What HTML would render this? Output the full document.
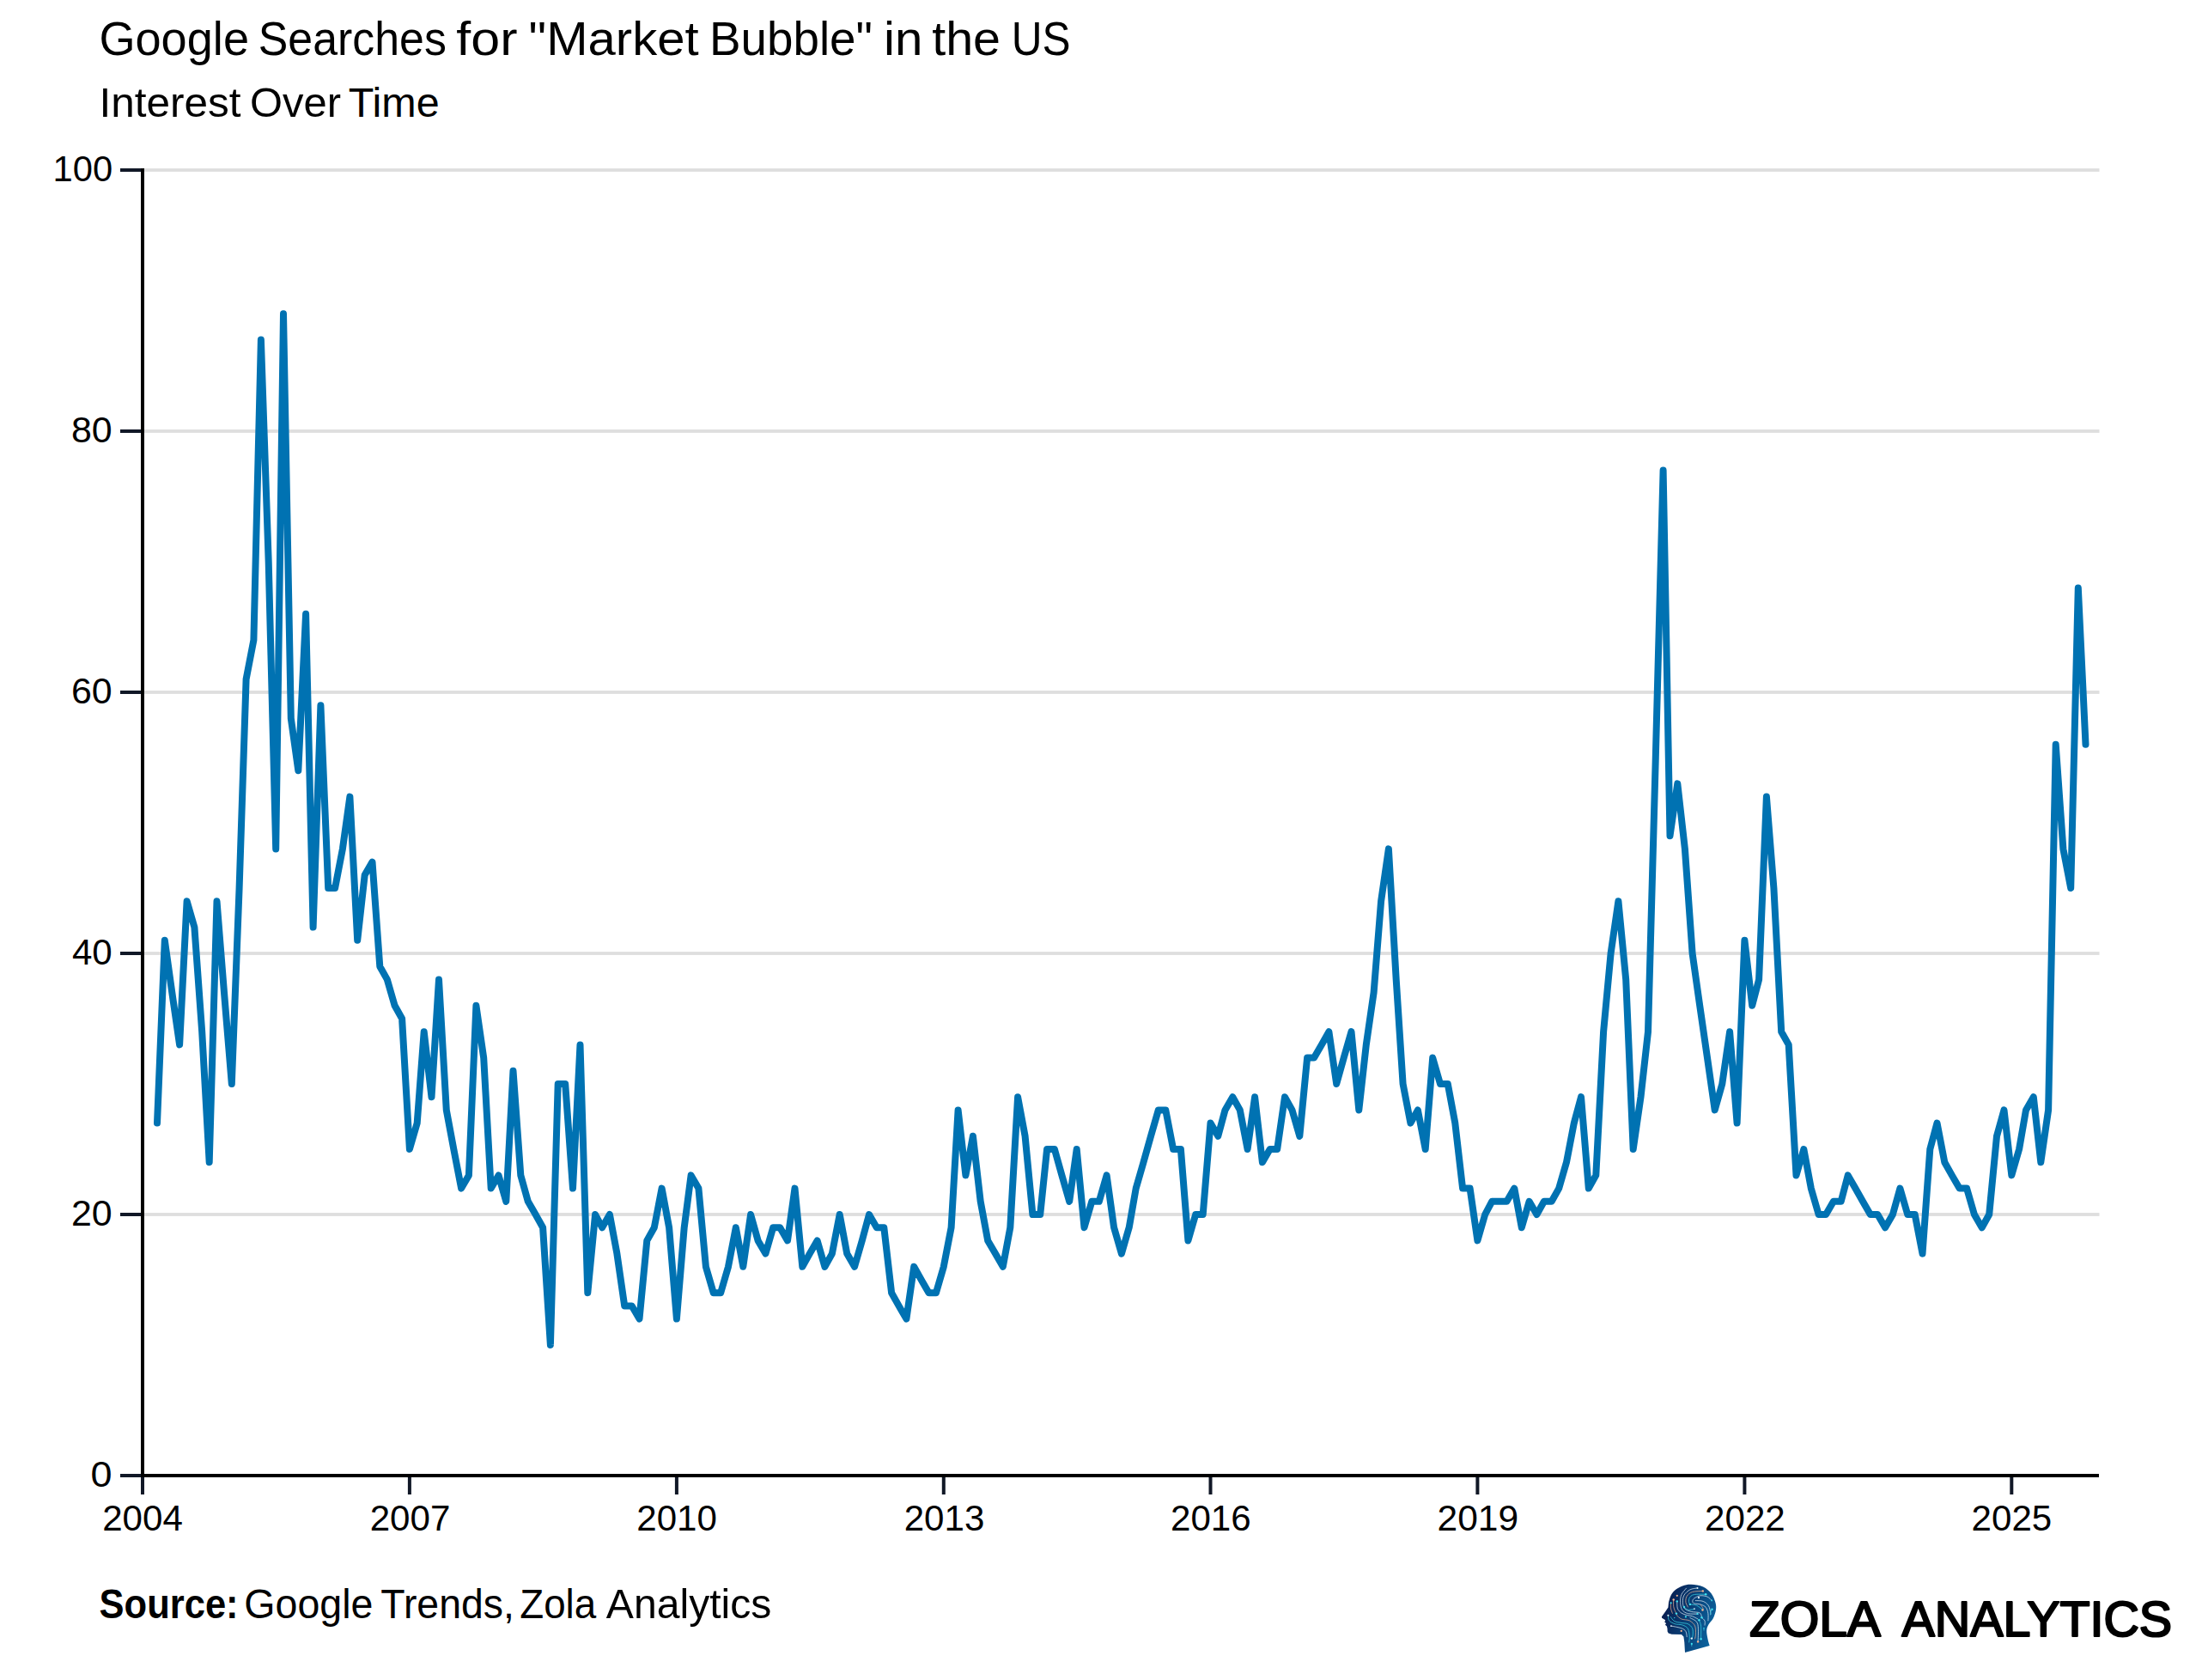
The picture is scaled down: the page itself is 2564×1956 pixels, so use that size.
<!DOCTYPE html>
<html lang="en"><head><meta charset="utf-8"><title>Google Searches for "Market Bubble" in the US</title>
<style>
html,body{margin:0;padding:0;background:#fff;}
body{width:2564px;height:1956px;overflow:hidden;}
svg{display:block;font-family:"Liberation Sans", Arial, sans-serif;}
text{fill:#000;white-space:pre;}
</style></head><body>
<svg width="2564" height="1956" viewBox="0 0 2564 1956">
<defs>
<linearGradient id="hg" gradientUnits="userSpaceOnUse" x1="15" y1="40" x2="78" y2="60"><stop offset="0" stop-color="#081a4c"/><stop offset="1" stop-color="#0b649f"/></linearGradient>
</defs>
<rect width="2564" height="1956" fill="#fff"/>
<rect x="168" y="1412.1" width="2276.5" height="3.8" fill="#dedede"/>
<rect x="168" y="1108.1" width="2276.5" height="3.8" fill="#dedede"/>
<rect x="168" y="804.1" width="2276.5" height="3.8" fill="#dedede"/>
<rect x="168" y="500.1" width="2276.5" height="3.8" fill="#dedede"/>
<rect x="168" y="196.1" width="2276.5" height="3.8" fill="#dedede"/>
<path d="M183.0,1307.6 L191.8,1094.8 L200.3,1155.6 L209.1,1216.4 L217.6,1049.2 L226.4,1079.6 L235.2,1201.2 L243.7,1353.2 L252.5,1049.2 L261.0,1155.6 L269.8,1262.0 L278.6,1034.0 L286.6,790.8 L295.4,745.2 L303.9,395.6 L312.7,654.0 L321.2,988.4 L330.0,365.2 L338.8,836.4 L347.3,897.2 L356.1,714.8 L364.6,1079.6 L373.4,821.2 L382.2,1034.0 L390.1,1034.0 L398.9,988.4 L407.4,927.6 L416.2,1094.8 L424.7,1018.8 L433.5,1003.6 L442.3,1125.2 L450.8,1140.4 L459.6,1170.8 L468.1,1186.0 L476.9,1338.0 L485.7,1307.6 L493.7,1201.2 L502.5,1277.2 L511.0,1140.4 L519.8,1292.4 L528.3,1338.0 L537.1,1383.6 L545.9,1368.4 L554.4,1170.8 L563.2,1231.6 L571.7,1383.6 L580.5,1368.4 L589.3,1398.8 L597.5,1246.8 L606.3,1368.4 L614.8,1398.8 L623.6,1414.0 L632.1,1429.2 L640.9,1566.0 L649.7,1262.0 L658.2,1262.0 L667.0,1383.6 L675.5,1216.4 L684.3,1505.2 L693.1,1414.0 L701.1,1429.2 L709.9,1414.0 L718.4,1459.6 L727.2,1520.4 L735.7,1520.4 L744.5,1535.6 L753.3,1444.4 L761.8,1429.2 L770.6,1383.6 L779.1,1429.2 L787.9,1535.6 L796.7,1429.2 L804.6,1368.4 L813.4,1383.6 L821.9,1474.8 L830.7,1505.2 L839.2,1505.2 L848.0,1474.8 L856.8,1429.2 L865.3,1474.8 L874.1,1414.0 L882.6,1444.4 L891.4,1459.6 L900.2,1429.2 L908.2,1429.2 L917.0,1444.4 L925.5,1383.6 L934.3,1474.8 L942.8,1459.6 L951.6,1444.4 L960.4,1474.8 L968.9,1459.6 L977.7,1414.0 L986.2,1459.6 L995.0,1474.8 L1003.8,1444.4 L1012.0,1414.0 L1020.8,1429.2 L1029.3,1429.2 L1038.1,1505.2 L1046.6,1520.4 L1055.4,1535.6 L1064.2,1474.8 L1072.7,1490.0 L1081.5,1505.2 L1090.0,1505.2 L1098.8,1474.8 L1107.6,1429.2 L1115.6,1292.4 L1124.4,1368.4 L1132.9,1322.8 L1141.7,1398.8 L1150.2,1444.4 L1159.0,1459.6 L1167.8,1474.8 L1176.3,1429.2 L1185.1,1277.2 L1193.6,1322.8 L1202.4,1414.0 L1211.2,1414.0 L1219.1,1338.0 L1227.9,1338.0 L1236.4,1368.4 L1245.2,1398.8 L1253.7,1338.0 L1262.5,1429.2 L1271.3,1398.8 L1279.8,1398.8 L1288.6,1368.4 L1297.1,1429.2 L1305.9,1459.6 L1314.7,1429.2 L1322.7,1383.6 L1331.5,1353.2 L1340.0,1322.8 L1348.8,1292.4 L1357.3,1292.4 L1366.1,1338.0 L1374.9,1338.0 L1383.4,1444.4 L1392.2,1414.0 L1400.7,1414.0 L1409.5,1307.6 L1418.3,1322.8 L1426.5,1292.4 L1435.3,1277.2 L1443.8,1292.4 L1452.6,1338.0 L1461.1,1277.2 L1469.9,1353.2 L1478.7,1338.0 L1487.2,1338.0 L1496.0,1277.2 L1504.5,1292.4 L1513.3,1322.8 L1522.1,1231.6 L1530.1,1231.6 L1538.8,1216.4 L1547.4,1201.2 L1556.2,1262.0 L1564.7,1231.6 L1573.5,1201.2 L1582.3,1292.4 L1590.8,1216.4 L1599.6,1155.6 L1608.1,1049.2 L1616.9,988.4 L1625.7,1140.4 L1633.6,1262.0 L1642.4,1307.6 L1650.9,1292.4 L1659.7,1338.0 L1668.2,1231.6 L1677.0,1262.0 L1685.8,1262.0 L1694.3,1307.6 L1703.1,1383.6 L1711.6,1383.6 L1720.4,1444.4 L1729.2,1414.0 L1737.2,1398.8 L1746.0,1398.8 L1754.5,1398.8 L1763.3,1383.6 L1771.8,1429.2 L1780.6,1398.8 L1789.4,1414.0 L1797.9,1398.8 L1806.7,1398.8 L1815.2,1383.6 L1824.0,1353.2 L1832.8,1307.6 L1841.0,1277.2 L1849.8,1383.6 L1858.3,1368.4 L1867.1,1201.2 L1875.6,1110.0 L1884.4,1049.2 L1893.2,1140.4 L1901.7,1338.0 L1910.5,1277.2 L1919.0,1201.2 L1927.8,882.0 L1936.6,547.6 L1944.5,973.2 L1953.3,912.4 L1961.9,988.4 L1970.6,1110.0 L1979.2,1170.8 L1988.0,1231.6 L1996.7,1292.4 L2005.3,1262.0 L2014.1,1201.2 L2022.6,1307.6 L2031.4,1094.8 L2040.2,1170.8 L2048.1,1140.4 L2056.9,927.6 L2065.4,1034.0 L2074.2,1201.2 L2082.7,1216.4 L2091.5,1368.4 L2100.3,1338.0 L2108.8,1383.6 L2117.6,1414.0 L2126.1,1414.0 L2134.9,1398.8 L2143.7,1398.8 L2151.7,1368.4 L2160.4,1383.6 L2169.0,1398.8 L2177.8,1414.0 L2186.3,1414.0 L2195.1,1429.2 L2203.9,1414.0 L2212.4,1383.6 L2221.2,1414.0 L2229.7,1414.0 L2238.5,1459.6 L2247.3,1338.0 L2255.5,1307.6 L2264.3,1353.2 L2272.8,1368.4 L2281.6,1383.6 L2290.1,1383.6 L2298.9,1414.0 L2307.7,1429.2 L2316.2,1414.0 L2325.0,1322.8 L2333.5,1292.4 L2342.3,1368.4 L2351.1,1338.0 L2359.0,1292.4 L2367.8,1277.2 L2376.3,1353.2 L2385.1,1292.4 L2393.7,866.8 L2402.4,988.4 L2411.2,1034.0 L2419.8,684.4 L2428.5,866.8" fill="none" stroke="#0072b2" stroke-width="8" stroke-linejoin="round" stroke-linecap="round"/>
<rect x="140" y="1716.0" width="26" height="4" fill="#111827"/>
<rect x="140" y="1412.0" width="26" height="4" fill="#111827"/>
<rect x="140" y="1108.0" width="26" height="4" fill="#111827"/>
<rect x="140" y="804.0" width="26" height="4" fill="#111827"/>
<rect x="140" y="500.0" width="26" height="4" fill="#111827"/>
<rect x="140" y="196.0" width="26" height="4" fill="#111827"/>
<rect x="164.0" y="1718" width="4" height="22" fill="#111827"/>
<rect x="474.9" y="1718" width="4" height="22" fill="#111827"/>
<rect x="785.9" y="1718" width="4" height="22" fill="#111827"/>
<rect x="1096.8" y="1718" width="4" height="22" fill="#111827"/>
<rect x="1407.5" y="1718" width="4" height="22" fill="#111827"/>
<rect x="1718.4" y="1718" width="4" height="22" fill="#111827"/>
<rect x="2029.4" y="1718" width="4" height="22" fill="#111827"/>
<rect x="2340.3" y="1718" width="4" height="22" fill="#111827"/>
<rect x="164" y="196" width="4" height="1524" fill="#000"/>
<rect x="164" y="1716" width="2280" height="4" fill="#000"/>
<text y="64.2" font-size="55.5" font-weight="400"><tspan x="115.4" textLength="174.6" lengthAdjust="spacingAndGlyphs">Google</tspan> <tspan x="300.8" textLength="219.0" lengthAdjust="spacingAndGlyphs">Searches</tspan> <tspan x="531.3" textLength="71.2" lengthAdjust="spacingAndGlyphs">for</tspan> <tspan x="615.6" textLength="198.0" lengthAdjust="spacingAndGlyphs">&quot;Market</tspan> <tspan x="826.1" textLength="189.9" lengthAdjust="spacingAndGlyphs">Bubble&quot;</tspan> <tspan x="1029.0" textLength="45.4" lengthAdjust="spacingAndGlyphs">in</tspan> <tspan x="1085.2" textLength="79.9" lengthAdjust="spacingAndGlyphs">the</tspan> <tspan x="1177.8" textLength="68.8" lengthAdjust="spacingAndGlyphs">US</tspan></text>
<text y="135.8" font-size="47.5" font-weight="400"><tspan x="115.5" textLength="165.1" lengthAdjust="spacingAndGlyphs">Interest</tspan> <tspan x="291.0" textLength="106.0" lengthAdjust="spacingAndGlyphs">Over</tspan> <tspan x="405.7" textLength="105.9" lengthAdjust="spacingAndGlyphs">Time</tspan></text>
<text y="1883.8" font-size="48.5" font-weight="700"><tspan x="115.6" textLength="162.0" lengthAdjust="spacingAndGlyphs">Source:</tspan></text>
<text y="1883.8" font-size="48.5" font-weight="400"><tspan x="284.3" textLength="150.2" lengthAdjust="spacingAndGlyphs">Google</tspan> <tspan x="443.3" textLength="155.6" lengthAdjust="spacingAndGlyphs">Trends,</tspan> <tspan x="605.3" textLength="88.9" lengthAdjust="spacingAndGlyphs">Zola</tspan> <tspan x="705.8" textLength="192.6" lengthAdjust="spacingAndGlyphs">Analytics</tspan></text>
<text y="1904.8" font-size="57" font-weight="400" stroke="#000" stroke-width="2.2" stroke-linejoin="round"><tspan x="2036.9" textLength="149.8" lengthAdjust="spacingAndGlyphs">ZOLA</tspan> <tspan x="2214.5" textLength="314.6" lengthAdjust="spacingAndGlyphs">ANALYTICS</tspan></text>
<text y="1731.2" font-size="42" font-weight="400"><tspan x="105.6" textLength="25.0" lengthAdjust="spacingAndGlyphs">0</tspan></text>
<text y="1427.2" font-size="42" font-weight="400"><tspan x="83.0" textLength="47.7" lengthAdjust="spacingAndGlyphs">20</tspan></text>
<text y="1123.2" font-size="42" font-weight="400"><tspan x="83.9" textLength="46.8" lengthAdjust="spacingAndGlyphs">40</tspan></text>
<text y="819.2" font-size="42" font-weight="400"><tspan x="83.0" textLength="47.7" lengthAdjust="spacingAndGlyphs">60</tspan></text>
<text y="515.2" font-size="42" font-weight="400"><tspan x="83.0" textLength="47.7" lengthAdjust="spacingAndGlyphs">80</tspan></text>
<text y="211.2" font-size="42" font-weight="400"><tspan x="61.5" textLength="69.6" lengthAdjust="spacingAndGlyphs">100</tspan></text>
<text y="1782.0" font-size="42" font-weight="400"><tspan x="119.2" textLength="93.6" lengthAdjust="spacingAndGlyphs">2004</tspan></text>
<text y="1782.0" font-size="42" font-weight="400"><tspan x="430.7" textLength="93.6" lengthAdjust="spacingAndGlyphs">2007</tspan></text>
<text y="1782.0" font-size="42" font-weight="400"><tspan x="741.3" textLength="93.6" lengthAdjust="spacingAndGlyphs">2010</tspan></text>
<text y="1782.0" font-size="42" font-weight="400"><tspan x="1052.7" textLength="93.6" lengthAdjust="spacingAndGlyphs">2013</tspan></text>
<text y="1782.0" font-size="42" font-weight="400"><tspan x="1363.0" textLength="93.6" lengthAdjust="spacingAndGlyphs">2016</tspan></text>
<text y="1782.0" font-size="42" font-weight="400"><tspan x="1673.6" textLength="94.5" lengthAdjust="spacingAndGlyphs">2019</tspan></text>
<text y="1782.0" font-size="42" font-weight="400"><tspan x="1985.1" textLength="93.6" lengthAdjust="spacingAndGlyphs">2022</tspan></text>
<text y="1782.0" font-size="42" font-weight="400"><tspan x="2295.6" textLength="93.6" lengthAdjust="spacingAndGlyphs">2025</tspan></text>
<g transform="translate(1920,1830)">
<path d="M23.0,35.3C23.4,34.2 24.0,30.7 25.2,28.4C26.4,26.1 28.0,23.4 30.3,21.5C32.6,19.5 36.0,17.6 39.1,16.5C42.3,15.4 45.2,14.7 49.2,14.8C53.2,15.0 59.2,15.6 63.1,17.4C67.0,19.1 70.2,22.2 72.6,25.2C74.9,28.2 76.4,32.2 77.3,35.3C78.2,38.5 78.5,41.0 78.0,44.2C77.6,47.3 76.2,51.4 74.8,54.3C73.3,57.2 70.7,59.1 69.4,61.5C68.1,63.9 67.4,65.7 67.2,68.5C67.0,71.2 67.9,75.3 68.5,78.2C69.0,81.2 70.3,84.8 70.7,86.1L42.0,94.0L41.3,82.0L40.4,75.4L37.9,73.0L26.5,72.7L22.7,71.6L21.6,69.4L21.5,66.2L20.9,63.4L18.9,61.7L20.1,60.1L18.3,58.8L19.1,56.3L15.1,53.8L14.9,52.2L18.9,46.7L22.4,41.6L23.0,35.3Z" fill="url(#hg)"/>
<g fill="none" stroke-width="0.85" stroke-linecap="round" opacity="0.82">
<path d="M43.5,19.2C42.6,20.5 39.0,23.8 37.9,26.5C36.7,29.2 36.5,32.4 36.6,35.3C36.7,38.3 37.1,42.0 38.6,44.2C40.1,46.4 42.3,47.8 45.4,48.6C48.5,49.4 55.2,49.0 57.1,49.1" stroke="#e6f3fa"/>
<path d="M56.5,18.9C55.0,19.2 50.5,19.5 47.9,20.8C45.4,22.2 42.4,24.7 41.0,27.1C39.6,29.5 39.3,32.7 39.4,35.3C39.5,38.0 40.0,41.1 41.6,42.9C43.3,44.7 46.3,45.5 49.2,46.4C52.2,47.2 57.3,46.8 59.3,47.9C61.4,49.1 61.1,52.4 61.5,53.3" stroke="#e6f3fa"/>
<path d="M62.8,22.4C60.7,22.6 53.6,22.5 50.5,23.5C47.4,24.5 45.4,26.4 44.2,28.4C42.9,30.4 42.7,33.2 42.9,35.3C43.1,37.4 45.0,40.1 45.4,41.0" stroke="#f7b591"/>
<path d="M66.2,26.2C63.9,26.3 55.5,25.9 52.4,26.6C49.2,27.3 48.3,28.8 47.3,30.3C46.4,31.7 46.5,34.1 46.6,35.3C46.7,36.6 47.7,37.4 47.9,37.9" stroke="#3fe3f2"/>
<path d="M73.2,33.4C72.3,32.7 70.3,30.1 68.1,29.1C65.9,28.2 62.5,27.5 59.9,27.8C57.4,28.1 54.2,29.8 52.7,30.9C51.2,32.0 50.8,33.4 50.8,34.4C50.8,35.4 51.2,36.3 52.7,36.9C54.2,37.5 57.7,37.2 59.9,38.0C62.2,38.7 64.8,39.6 66.2,41.3C67.7,43.1 68.5,46.0 68.9,48.6C69.3,51.2 68.9,55.4 68.9,56.8" stroke="#e6f3fa"/>
<path d="M54.3,33.6C55.7,33.7 60.6,33.4 63.1,34.4C65.6,35.4 67.9,37.1 69.4,39.4C70.9,41.8 71.6,46.8 71.9,48.6C72.2,50.3 71.4,49.6 71.3,49.8" stroke="#e6f3fa"/>
<path d="M59.9,38.0C60.5,38.8 62.7,41.8 63.1,42.9C63.5,44.0 62.6,44.2 62.5,44.5" stroke="#f7b591"/>
<path d="M47.9,37.9C49.2,38.1 53.1,38.1 55.5,39.1C57.9,40.2 61.3,43.3 62.5,44.2" stroke="#3fe3f2"/>
<path d="M73.5,43.8C73.2,44.3 72.2,45.7 71.9,46.7C71.6,47.7 71.7,49.3 71.6,49.8" stroke="#3fe3f2"/>
<path d="M22.4,50.8C22.6,51.8 22.2,55.1 23.5,56.8C24.8,58.4 27.7,59.8 30.3,60.7C32.9,61.6 36.6,61.0 39.1,62.0C41.6,62.9 44.1,64.0 45.4,66.2C46.8,68.5 47.0,73.1 47.2,75.7C47.4,78.3 46.8,81.0 46.7,82.0" stroke="#3fe3f2"/>
<path d="M25.2,52.5C26.0,53.3 27.5,56.4 29.7,57.5C31.8,58.7 35.2,58.9 37.9,59.4C40.5,60.0 43.3,59.7 45.4,60.7C47.5,61.7 49.5,63.6 50.5,65.6C51.4,67.6 51.3,70.6 51.2,72.6C51.2,74.6 50.3,76.8 50.2,77.6" stroke="#3fe3f2"/>
<path d="M32.2,50.5C33.1,51.2 35.3,53.9 37.9,55.0C40.4,56.1 44.7,55.6 47.3,56.9C49.9,58.3 52.5,60.5 53.6,63.1C54.8,65.7 54.4,70.1 54.4,72.6C54.4,75.0 53.8,77.0 53.6,77.9" stroke="#f7b591"/>
<path d="M47.9,53.6C49.2,54.4 53.9,56.1 55.5,58.2C57.1,60.3 57.2,62.4 57.4,66.2C57.7,70.1 57.2,78.9 57.1,81.4" stroke="#e6f3fa"/>
<path d="M58.4,56.2C58.7,57.3 60.2,59.4 60.6,63.1C60.9,66.8 60.6,75.7 60.6,78.2" stroke="#3fe3f2"/>
<path d="M61.5,53.3C62.1,53.9 64.4,55.6 65.0,57.1C65.6,58.6 65.0,61.3 65.0,62.1" stroke="#e6f3fa"/>
<path d="M25.9,63.1C27.9,63.5 35.0,64.7 37.9,65.7C40.7,66.8 41.9,67.7 42.9,69.4C44.0,71.1 44.0,74.7 44.2,75.7" stroke="#e6f3fa"/>
<path d="M28.7,32.5C28.7,33.8 28.4,38.2 28.7,40.4C29.0,42.5 29.6,43.8 30.3,45.4C31.0,47.0 32.4,49.1 32.8,49.8" stroke="#f7b591"/>
<path d="M25.6,36.3C25.6,37.4 25.2,40.9 25.6,42.9C25.9,44.9 27.1,47.4 27.4,48.3" stroke="#f7b591"/>
<path d="M32.8,34.4C32.9,35.8 32.6,40.6 33.4,42.9C34.3,45.2 36.1,46.8 37.9,48.1C39.6,49.3 42.1,49.9 44.2,50.5C46.3,51.1 48.4,51.0 50.5,51.7C52.6,52.5 55.7,54.4 56.8,54.9" stroke="#e6f3fa"/>
<path d="M41.0,41.0C41.7,41.5 43.4,43.7 45.4,44.2C47.4,44.6 51.6,43.6 52.9,43.5" stroke="#3fe3f2"/>
<path d="M49.8,83.9C49.8,84.3 49.8,86.0 49.8,86.4" stroke="#3fe3f2"/>
<path d="M64.0,65.6C64.0,66.0 64.0,67.7 64.0,68.1" stroke="#3fe3f2"/>
</g>
<g>
<circle cx="56.5" cy="18.9" r="0.99" fill="#e6f3fa"/>
<circle cx="62.8" cy="22.4" r="1.20" fill="#f7b591"/>
<circle cx="66.2" cy="26.2" r="1.27" fill="#3fe3f2"/>
<circle cx="58.0" cy="30.2" r="1.13" fill="#e6f3fa"/>
<circle cx="73.2" cy="33.4" r="0.85" fill="#3fe3f2"/>
<circle cx="73.5" cy="43.8" r="1.20" fill="#3fe3f2"/>
<circle cx="32.8" cy="27.8" r="1.13" fill="#f7b591"/>
<circle cx="28.7" cy="32.5" r="1.20" fill="#f7b591"/>
<circle cx="32.8" cy="34.4" r="1.20" fill="#3fe3f2"/>
<circle cx="25.6" cy="36.3" r="1.13" fill="#3fe3f2"/>
<circle cx="47.9" cy="37.9" r="1.20" fill="#3fe3f2"/>
<circle cx="41.0" cy="41.0" r="1.20" fill="#3fe3f2"/>
<circle cx="52.9" cy="43.1" r="0.92" fill="#e6f3fa"/>
<circle cx="62.5" cy="44.5" r="1.20" fill="#f7b591"/>
<circle cx="56.5" cy="48.9" r="1.06" fill="#3fe3f2"/>
<circle cx="31.9" cy="48.6" r="1.20" fill="#3fe3f2"/>
<circle cx="22.4" cy="50.8" r="1.06" fill="#e6f3fa"/>
<circle cx="42.9" cy="52.4" r="1.06" fill="#3fe3f2"/>
<circle cx="29.7" cy="53.6" r="0.71" fill="#3fe3f2"/>
<circle cx="61.5" cy="53.3" r="1.20" fill="#3fe3f2"/>
<circle cx="58.4" cy="56.2" r="1.20" fill="#3fe3f2"/>
<circle cx="25.9" cy="63.1" r="0.85" fill="#e6f3fa"/>
<circle cx="37.7" cy="68.9" r="1.13" fill="#f7b591"/>
<circle cx="49.8" cy="77.6" r="1.20" fill="#e6f3fa"/>
<circle cx="60.6" cy="78.2" r="1.20" fill="#3fe3f2"/>
<circle cx="57.1" cy="81.4" r="1.20" fill="#f7b591"/>
<circle cx="49.8" cy="83.9" r="1.06" fill="#3fe3f2"/>
<circle cx="64.0" cy="65.6" r="0.71" fill="#3fe3f2"/>
</g>
</g>
</svg></body></html>
